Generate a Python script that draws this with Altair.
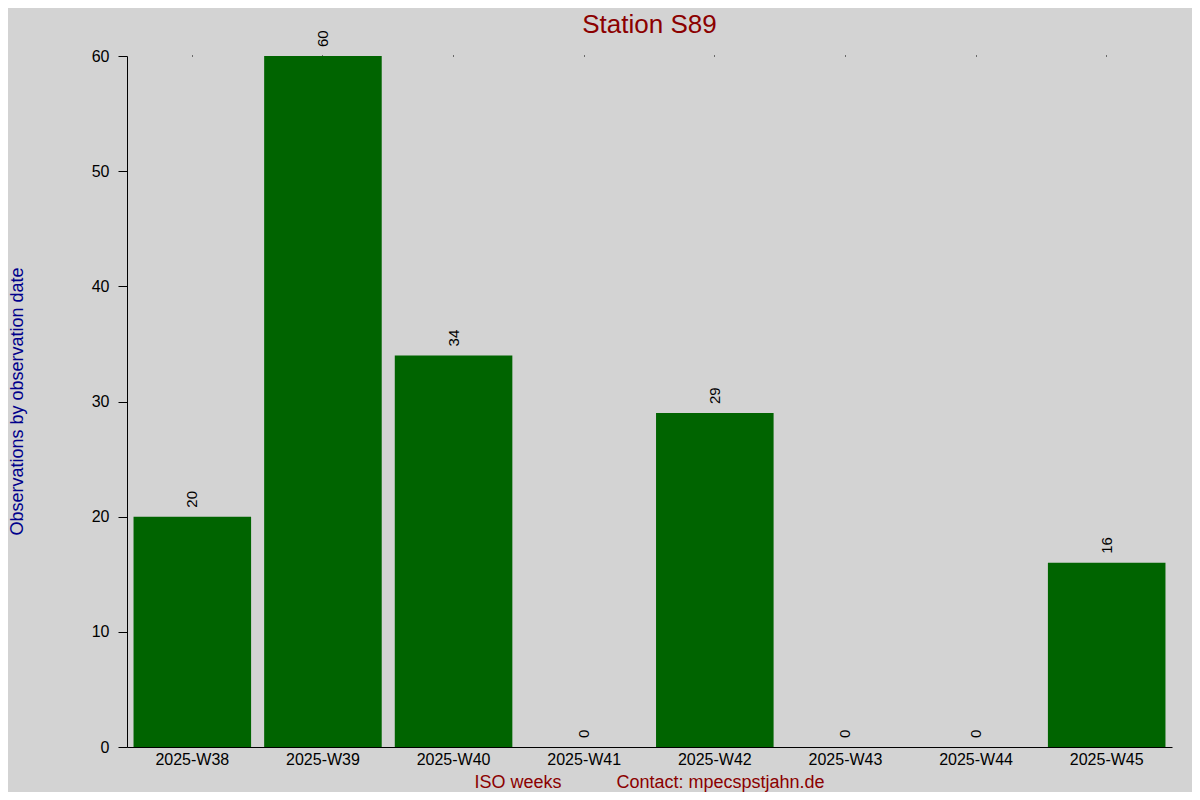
import altair as alt
import pandas as pd

weeks = ["2025-W38", "2025-W39", "2025-W40", "2025-W41", "2025-W42", "2025-W43", "2025-W44", "2025-W45"]
counts = [20, 60, 34, 0, 29, 0, 0, 16]
chart_title = "Station S89"

df = pd.DataFrame({"week": weeks, "count": counts})

FONT = "Liberation Sans"
NBSP = "\u00a0"
xtitle = "ISO weeks" + NBSP * 11 + "Contact: mpecspstjahn.de"

xscale = alt.Scale(paddingInner=0.1, paddingOuter=0.05)
yscale = alt.Scale(domain=[0, 60], nice=False)

bars = alt.Chart(df).mark_bar(color="#006400").encode(
    x=alt.X("week:N", sort=weeks, scale=xscale,
            axis=alt.Axis(title=xtitle, labelAngle=0, ticks=False, labelPadding=4,
                          labelFontSize=16, labelColor="black", domainColor="black",
                          titleFontSize=18, titleColor="#8b0000", titleFontWeight="normal",
                          titleX=522, titleY=40, titleBaseline="alphabetic", titleAlign="center")),
    y=alt.Y("count:Q", scale=yscale,
            axis=alt.Axis(title="Observations by observation date", values=[0, 10, 20, 30, 40, 50, 60],
                          grid=False, tickSize=9, tickColor="black", domainColor="black",
                          labelFontSize=16, labelColor="black", labelPadding=9,
                          titleFontSize=18, titleColor="#00008b", titleFontWeight="normal",
                          titleAngle=270, titleX=-110, titleY=345, titleAlign="center",
                          titleBaseline="middle")),
)

labels = alt.Chart(df).mark_text(angle=270, align="left", baseline="middle", dx=9,
                                 fontSize=15, color="black", font=FONT).encode(
    x=alt.X("week:N", sort=weeks, scale=xscale,
            axis=alt.Axis(orient="top", labels=False, domain=False, ticks=True, tickSize=1,
                          tickColor="black", title=chart_title, grid=False,
                          titleFontSize=26, titleColor="#8b0000", titleFontWeight="normal",
                          titleX=522, titleY=-24, titleBaseline="alphabetic",
                          titleAlign="center")),
    y=alt.Y("count:Q", scale=yscale),
    text=alt.Text("count:Q"),
)

chart = alt.layer(bars, labels).resolve_axis(x="independent").properties(
    width=1045,
    height=691,
    autosize=alt.AutoSizeParams(type="none"),
    padding={"left": 119, "top": 48, "right": 20, "bottom": 45},
    background="#d3d3d3",
).configure(font=FONT).configure_view(stroke=None).configure_axis(labelFont=FONT, titleFont=FONT)

chart.save("out.html", embed_options={"renderer": "svg", "actions": False})
